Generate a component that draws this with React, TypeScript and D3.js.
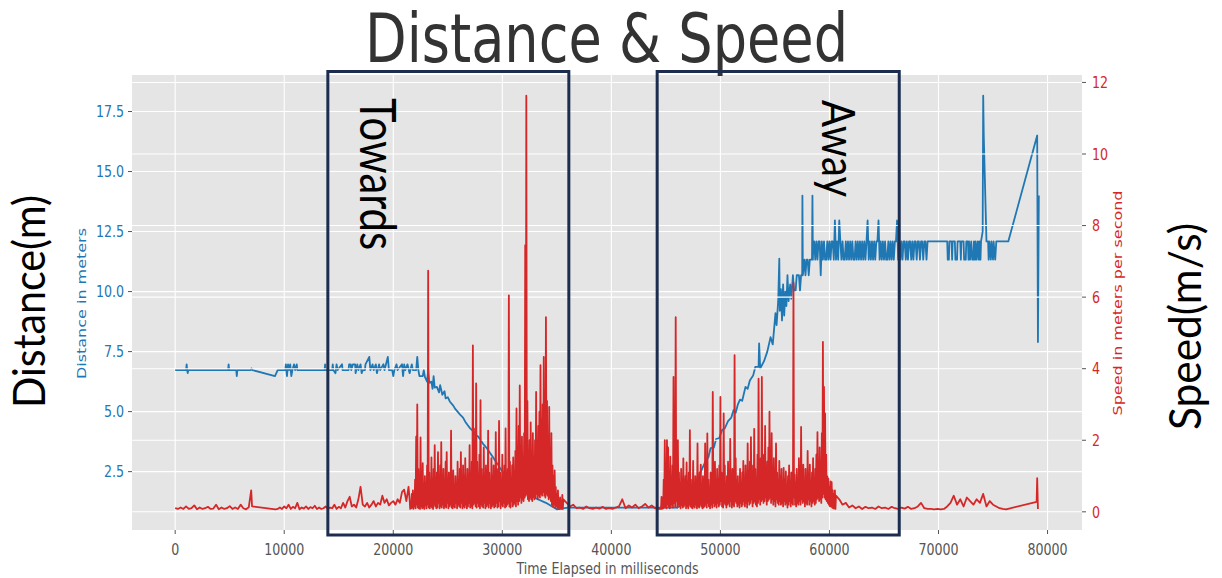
import * as d3 from 'd3';

type Pt = [number, number];

// speed in m/s, regular samples (start ms, step ms) noted per array
const speedEarly = [0.1, 0.08, 0.12, 0.08, 0.15, 0.08, 0.1, 0.18, 0.07, 0.12,
  0.08, 0.1, 0.14, 0.08, 0.09, 0.2, 0.07, 0.12, 0.08, 0.1,
  0.16, 0.08, 0.12, 0.08, 0.2, 0.1, 0.07, 0.13]; // 0, 250
const speedGap: Pt[] = [[6970, 0.6], [7050, 0.15], [9200, 0.07]];
const speedPre = [0.08, 0.12, 0.08, 0.15, 0.1, 0.2, 0.08, 0.14, 0.1, 0.25,
  0.07, 0.12, 0.09, 0.15, 0.08, 0.13, 0.1, 0.17, 0.08, 0.12,
  0.08, 0.1, 0.15, 0.08, 0.12, 0.1, 0.2, 0.08, 0.14, 0.1,
  0.25, 0.12, 0.3, 0.42, 0.15, 0.2, 0.12, 0.35, 0.7, 0.2,
  0.15, 0.25, 0.12, 0.2, 0.3, 0.15, 0.25, 0.2, 0.45, 0.25,
  0.35, 0.18, 0.25, 0.3, 0.2, 0.35, 0.25, 0.55, 0.62, 0.3,
  0.7]; // 9400, 200
// peaks every 100 ms from 21500, troughs 50 ms after each peak
const speedTowards = [0.35, 0.2, 0.5, 0.6, 0.3, 0.9, 2.1, 3.0, 1.2, 0.8,
  2.08, 0.9, 1.36, 0.7, 1.0, 0.8, 1.3, 6.74, 1.1, 0.8,
  1.52, 0.9, 1.2, 1.86, 0.7, 1.1, 1.67, 0.9, 1.3, 1.95,
  0.8, 1.2, 0.9, 1.4, 1.67, 0.8, 1.1, 0.9, 2.27, 0.8,
  1.16, 0.7, 1.0, 0.8, 1.4, 0.9, 1.2, 1.67, 0.8, 1.3,
  1.0, 1.5, 0.9, 1.2, 0.8, 1.86, 1.0, 1.4, 4.65, 2.33,
  1.1, 3.59, 1.4, 0.9, 1.6, 3.12, 1.2, 0.8, 1.8, 1.0,
  1.3, 0.9, 2.27, 1.1, 0.8, 1.5, 1.0, 1.3, 0.9, 2.23,
  1.2, 0.9, 2.54, 1.1, 0.8, 1.6, 1.0, 1.3, 2.33, 0.9,
  1.2, 6.05, 1.4, 0.9, 1.3, 1.52, 1.0, 1.7, 2.89, 1.2,
  2.4, 3.53, 1.3, 2.1, 1.5, 2.2, 7.45, 11.63, 3.1, 1.6,
  2.0, 2.5, 1.2, 2.2, 1.4, 2.0, 3.35, 1.5, 2.4, 2.8,
  4.1, 2.6, 3.0, 4.33, 2.4, 5.44, 3.1, 2.0, 2.93, 1.6,
  2.2, 1.3, 1.0, 1.16, 0.7, 0.5, 0.6, 0.3, 0.4, 0.2,
  0.47];
const speedTowardsLow = [0.08, 0.1, 0.12, 0.08, 0.15, 0.1, 0.2, 0.12, 0.1, 0.08,
  0.15, 0.1, 0.12, 0.08, 0.18, 0.1, 0.2, 0.12, 0.1, 0.15,
  0.12, 0.08, 0.2, 0.15, 0.1, 0.12, 0.25, 0.1, 0.15, 0.12,
  0.2, 0.1, 0.15, 0.12, 0.25, 0.1, 0.15, 0.2, 0.12, 0.1,
  0.15, 0.12, 0.25, 0.1, 0.2, 0.15, 0.12, 0.25, 0.1, 0.15,
  0.12, 0.2, 0.1, 0.15, 0.25, 0.12, 0.15, 0.1, 0.2, 0.25,
  0.15, 0.12, 0.25, 0.15, 0.1, 0.2, 0.15, 0.12, 0.25, 0.1,
  0.15, 0.2, 0.12, 0.25, 0.1, 0.15, 0.2, 0.12, 0.15, 0.25,
  0.12, 0.15, 0.3, 0.1, 0.2, 0.15, 0.25, 0.12, 0.15, 0.2,
  0.25, 0.15, 0.12, 0.3, 0.15, 0.2, 0.25, 0.15, 0.3, 0.2,
  0.3, 0.4, 0.25, 0.35, 0.3, 0.4, 0.45, 0.5, 0.35, 0.3,
  0.4, 0.35, 0.3, 0.45, 0.35, 0.4, 0.5, 0.35, 0.45, 0.4,
  0.5, 0.45, 0.55, 0.45, 0.4, 0.5, 0.45, 0.35, 0.4, 0.3,
  0.2, 0.15, 0.2, 0.12, 0.15, 0.1, 0.12, 0.08, 0.1, 0.08,
  0.08];
const speedMid = [0.35, 0.25, 0.15, 0.2, 0.1, 0.12, 0.08, 0.15, 0.1, 0.08,
  0.12, 0.09, 0.14, 0.08, 0.1, 0.08, 0.12, 0.15, 0.35, 0.1,
  0.18, 0.12, 0.2, 0.1, 0.15, 0.22, 0.12, 0.18, 0.1, 0.08]; // 35600, 300
// peaks every 100 ms from 44500, troughs 50 ms after each peak
const speedAway = [0.08, 0.42, 0.3, 0.9, 2.0, 1.2, 2.0, 1.8, 0.8, 1.54,
  0.9, 1.3, 3.77, 2.6, 5.44, 1.6, 2.0, 1.1, 0.8, 1.2,
  0.7, 1.49, 0.9, 1.0, 1.38, 0.8, 1.1, 2.28, 0.9, 0.7,
  1.42, 0.8, 1.0, 0.6, 1.91, 0.9, 1.1, 1.32, 0.7, 1.0,
  0.8, 1.91, 1.2, 2.19, 0.9, 0.6, 1.1, 0.8, 3.35, 1.0,
  1.4, 0.7, 1.2, 0.9, 1.3, 3.21, 1.1, 0.8, 2.75, 1.3,
  0.7, 1.0, 1.4, 0.9, 2.04, 0.8, 1.2, 0.7, 4.38, 1.5,
  0.9, 1.0, 0.6, 1.2, 0.8, 1.1, 1.42, 0.9, 1.3, 0.8,
  1.91, 1.0, 1.4, 2.09, 0.9, 1.3, 2.32, 1.2, 0.8, 1.6,
  3.72, 1.1, 1.5, 3.77, 1.2, 1.6, 2.4, 1.0, 1.4, 1.8,
  2.8, 1.3, 2.2, 1.0, 1.5, 0.8, 1.91, 1.1, 0.9, 1.42,
  1.0, 1.2, 0.8, 1.23, 0.9, 1.13, 0.7, 1.0, 1.3, 0.8,
  1.1, 0.9, 6.4, 1.04, 0.8, 1.2, 0.9, 1.5, 1.0, 2.37,
  1.1, 1.32, 0.8, 1.2, 0.9, 1.7, 1.0, 1.32, 0.8, 1.1,
  1.5, 0.9, 1.2, 1.6, 2.23, 1.2, 1.8, 1.1, 2.2, 4.75,
  3.49, 2.75, 1.6, 1.0, 0.93, 0.7, 0.85, 0.83, 0.6, 0.5,
  0.6];
const speedAwayLow = [0.08, 0.08, 0.1, 0.12, 0.15, 0.1, 0.2, 0.15, 0.1, 0.15,
  0.2, 0.12, 0.25, 0.15, 0.3, 0.12, 0.2, 0.15, 0.1, 0.2,
  0.12, 0.15, 0.2, 0.1, 0.15, 0.1, 0.2, 0.15, 0.12, 0.1,
  0.15, 0.12, 0.2, 0.1, 0.15, 0.12, 0.2, 0.15, 0.1, 0.12,
  0.15, 0.2, 0.12, 0.25, 0.15, 0.1, 0.2, 0.12, 0.25, 0.15,
  0.2, 0.12, 0.25, 0.15, 0.2, 0.3, 0.15, 0.12, 0.25, 0.2,
  0.12, 0.2, 0.25, 0.15, 0.3, 0.12, 0.2, 0.15, 0.3, 0.25,
  0.15, 0.2, 0.12, 0.25, 0.15, 0.2, 0.3, 0.15, 0.25, 0.12,
  0.3, 0.2, 0.25, 0.35, 0.15, 0.25, 0.3, 0.2, 0.15, 0.25,
  0.35, 0.2, 0.3, 0.35, 0.25, 0.3, 0.4, 0.2, 0.3, 0.35,
  0.4, 0.25, 0.35, 0.2, 0.3, 0.15, 0.35, 0.25, 0.2, 0.3,
  0.2, 0.25, 0.15, 0.3, 0.2, 0.25, 0.12, 0.2, 0.3, 0.15,
  0.25, 0.2, 0.4, 0.2, 0.15, 0.25, 0.2, 0.3, 0.2, 0.35,
  0.25, 0.3, 0.15, 0.25, 0.2, 0.35, 0.2, 0.3, 0.15, 0.25,
  0.3, 0.2, 0.25, 0.35, 0.4, 0.3, 0.35, 0.25, 0.4, 0.5,
  0.4, 0.35, 0.3, 0.25, 0.2, 0.15, 0.15, 0.12, 0.1, 0.1,
  0.08];
const speedLate = [0.45, 0.35, 0.2, 0.25, 0.12, 0.18, 0.1, 0.15, 0.08, 0.14,
  0.1, 0.12, 0.08, 0.15, 0.1, 0.12, 0.08, 0.14, 0.1, 0.08,
  0.12, 0.09, 0.14, 0.08, 0.1, 0.15, 0.25, 0.1, 0.08, 0.08,
  0.07, 0.08, 0.07, 0.08, 0.15, 0.25, 0.45, 0.2, 0.35, 0.15,
  0.4, 0.3, 0.2, 0.35, 0.25, 0.5, 0.15, 0.3, 0.2, 0.15,
  0.1, 0.08, 0.07]; // 60600, 300
const speedTail: Pt[] = [[79000, 0.28], [79050, 0.94], [79120, 0.08]];

// distance in meters
const distStart: Pt[] = [
  [0, 6.73], [1000, 6.73], [1050, 6.97], [1100, 6.73], [1150, 6.6], [1200, 6.73],
  [4850, 6.73], [4900, 6.97], [4950, 6.73], [5600, 6.73], [5650, 6.48], [5700, 6.73],
  [6950, 6.73], [7000, 6.8], [7100, 6.73], [9150, 6.48], [9400, 6.73],
  [10100, 6.73], [10150, 6.97], [10250, 6.48], [10350, 6.97], [10450, 6.73], [10550, 6.97],
  [10650, 6.48], [10750, 6.73], [10900, 6.97], [11000, 6.73], [11150, 6.97], [11200, 6.73],
  [13700, 6.73], [13750, 6.97], [13800, 6.73], [14400, 6.73], [14450, 6.97], [14500, 6.73],
  [14700, 6.6], [14800, 6.97], [14900, 6.73], [15300, 6.97], [15350, 6.73],
  [15900, 6.73], [15950, 6.97], [16100, 6.97], [16150, 6.73], [16300, 6.97], [16500, 6.97],
  [16550, 6.6], [16700, 6.97], [16800, 6.73], [17000, 6.97], [17100, 6.6], [17200, 6.73],
  [17400, 6.73], [17450, 6.97], [17800, 7.28], [17900, 6.73], [18100, 6.97], [18200, 6.73],
  [18400, 6.97], [18500, 6.6], [18700, 6.97], [18800, 6.73], [19100, 6.97], [19200, 6.73],
  [19500, 7.28], [19600, 6.73], [19900, 6.73], [20000, 6.48], [20100, 6.73], [20300, 6.97],
  [20400, 6.73], [20800, 6.97], [20900, 6.48], [21000, 6.97], [21100, 6.73], [21300, 6.97],
  [21500, 6.6], [21700, 6.97], [21800, 6.73],
  [22100, 6.73], [22200, 7.28], [22300, 6.73], [22400, 6.48], [22700, 6.48], [22800, 6.73],
  [22900, 6.45], [23100, 6.25], [23200, 6.73], [23300, 6.2], [23500, 6.25], [23600, 5.95],
  [23700, 6.48], [23800, 6.0], [24000, 6.03], [24200, 5.8], [24300, 6.1], [24500, 5.7],
  [24700, 5.85], [24800, 5.55], [25000, 5.6], [25200, 5.41], [25500, 5.25], [25700, 5.1],
  [25900, 5.0], [26150, 4.86], [26400, 4.75], [26600, 4.58], [26800, 4.45], [27050, 4.3],
  [27300, 4.2], [27500, 4.05], [27800, 3.95], [28000, 3.82], [28250, 3.65], [28450, 3.55],
  [28700, 3.4], [28900, 3.26], [29150, 3.1], [29350, 2.95], [29600, 2.8], [29800, 2.64],
  [30100, 2.45], [30400, 2.3], [30700, 2.15], [31000, 2.03], [32000, 1.7], [33000, 1.4],
  [34000, 1.2], [35000, 0.93], [36000, 1.0], [40000, 1.0], [44000, 1.0], [46000, 1.0],
  [46800, 1.2], [47400, 1.6], [47800, 2.0], [48200, 2.5], [48600, 2.9], [48900, 3.1],
  [49100, 3.48], [49400, 3.5], [49600, 3.85], [49900, 3.9], [50150, 4.23], [50400, 4.3],
  [50700, 4.6], [51000, 4.75], [51200, 5.06], [51400, 4.95], [51600, 5.3], [51800, 5.5],
  [52000, 5.45], [52300, 6.03], [52500, 5.95], [52700, 6.3], [53000, 6.5],
  [53200, 6.86], [53500, 6.86], [53550, 7.84], [53650, 6.8], [54000, 7.1], [54300, 7.5],
  [54600, 8.1], [54800, 7.8], [55050, 9.1], [55150, 8.6], [55300, 9.6], [55400, 11.37],
  [55450, 9.2], [55550, 10.1], [55650, 8.8], [55750, 10.3], [55850, 9.0], [55950, 10.0],
  [56050, 9.4], [56150, 10.68], [56250, 9.6], [56400, 10.3], [56500, 9.7], [56650, 10.68],
  [56750, 10.05], [56900, 10.05], [57000, 10.68], [57200, 10.68], [57300, 10.05], [57400, 10.68],
  [57500, 10.68], [57520, 14.0], [57560, 10.68], [57700, 11.33], [57800, 10.68], [57900, 11.33],
  [58000, 11.33], [58100, 10.68], [58200, 11.33], [58400, 11.33], [58440, 14.0], [58480, 11.33],
  [58530, 12.09],
];
const distPlateau = [12.09, 11.33, 12.09, 11.33, 12.09, 12.09, 10.68, 12.09, 11.33, 12.09,
  11.33, 11.33, 12.09, 11.33, 12.09, 11.33, 12.09, 12.09, 11.33, 12.96,
  11.33, 12.09, 11.33, 12.96, 12.09, 11.33, 12.09, 11.33, 11.33, 12.09,
  11.33, 12.09, 11.33, 12.09, 11.33, 12.09, 11.33, 11.33, 12.09, 11.33,
  12.09, 11.33, 12.09, 11.33, 12.09, 11.33, 12.09, 11.33, 12.09, 12.96,
  11.33, 12.09, 11.33, 12.09, 11.33, 12.09, 11.33, 12.09, 12.09, 12.96,
  11.33, 12.09, 11.33, 12.09, 11.33, 12.09, 11.33, 11.33, 12.09, 11.33,
  12.09, 11.33, 12.09, 11.33, 12.09, 12.09, 12.96, 11.33, 12.09, 11.33,
  12.09, 11.33, 12.09, 12.09, 11.33, 12.09, 11.33, 12.09, 12.09, 11.33,
  12.09, 11.33, 12.09, 12.09, 11.33, 12.09, 12.09, 11.33, 12.09, 12.09,
  11.33, 12.09, 12.09, 11.33, 12.09]; // 58600, 100
const distEnd: Pt[] = [
  [70700, 12.09], [70800, 12.09], [70850, 11.33], [70950, 11.33], [71000, 12.09], [71200, 12.09],
  [71250, 11.33], [71300, 12.09], [71500, 12.09], [71550, 11.33], [71700, 11.33], [71750, 12.09],
  [72000, 12.09], [72050, 11.33], [72100, 12.09], [72300, 12.09], [72350, 11.33], [72500, 11.33],
  [72550, 12.09], [72700, 12.09], [72750, 11.33], [72800, 12.09], [72900, 11.33], [73000, 12.09],
  [73100, 11.33], [73200, 11.33], [73250, 12.09], [73350, 11.33], [73400, 12.09], [73500, 11.33],
  [73600, 12.09], [73700, 11.33], [73750, 12.09], [73850, 11.33], [73900, 12.09], [74050, 12.5],
  [74100, 18.16], [74150, 16.5], [74350, 12.96], [74400, 12.09], [74550, 12.09], [74600, 11.33],
  [74650, 12.09], [74800, 11.33], [74850, 12.09], [75000, 11.33], [75050, 12.09], [75200, 11.33],
  [75300, 12.09], [76400, 12.09], [79050, 16.5], [79120, 7.9], [79200, 14.0],
];

const timeTicks = [0, 10000, 20000, 30000, 40000, 50000, 60000, 70000, 80000];
const distTicks = [2.5, 5, 7.5, 10, 12.5, 15, 17.5];
const speedTicks = [0, 2, 4, 6, 8, 10, 12];
const towardsSpan = [14000, 36100];
const awaySpan = [44200, 66400];

const sampled = (start: number, step: number, values: number[]): Pt[] =>
  values.map((v, i) => [start + i * step, v] as Pt);

// peak samples, each followed by its trough 50 ms later
const zigzag = (start: number, peaks: number[], lows: number[]): Pt[] =>
  peaks.flatMap((v, i) => [[start + i * 100, v], [start + i * 100 + 50, lows[i]]] as Pt[]);

const speed: Pt[] = [
  ...sampled(0, 250, speedEarly), ...speedGap, ...sampled(9400, 200, speedPre),
  ...zigzag(21500, speedTowards, speedTowardsLow), ...sampled(35600, 300, speedMid),
  ...zigzag(44500, speedAway, speedAwayLow), ...sampled(60600, 300, speedLate), ...speedTail,
];
const dist: Pt[] = [...distStart, ...sampled(58600, 100, distPlateau), ...distEnd];

// matplotlib style 5% margins
const padded = (vals: number[]) => {
  const [lo, hi] = d3.extent(vals) as [number, number];
  const m = (hi - lo) * 0.05;
  return [lo - m, hi + m];
};

const plot = { left: 132, right: 1082, top: 75, bottom: 530 };
const SQ = 0.79; // the source image is squeezed horizontally
const BLUE = '#1f77b4';
const RED = '#d62728';
const NAVY = '#1c2d4f';

export default function App() {
  const x = d3.scaleLinear()
    .domain(padded([...dist, ...speed].map(d => d[0])))
    .range([plot.left, plot.right]);
  const yD = d3.scaleLinear().domain(padded(dist.map(d => d[1]))).range([plot.bottom, plot.top]);
  const yS = d3.scaleLinear().domain(padded(speed.map(d => d[1]))).range([plot.bottom, plot.top]);

  const lineD = d3.line<Pt>().x(d => x(d[0])).y(d => yD(d[1]));
  const lineS = d3.line<Pt>().x(d => x(d[0])).y(d => yS(d[1]));

  const fmtD = d3.format('.1f');
  const fmtT = d3.format('d');

  const boxTop = 71.5;
  const boxBottom = 535;

  return (
    <svg width={1222} height={578} style={{ position: 'absolute', left: 0, top: 0, background: '#fff' }}
      fontFamily="DejaVu Sans">
      <rect x={plot.left} y={plot.top} width={plot.right - plot.left} height={plot.bottom - plot.top} fill="#E5E5E5" />

      {/* left axis grid */}
      <g stroke="#fff" strokeWidth={1.1}>
        {timeTicks.map(t => <line key={'gx' + t} x1={x(t)} x2={x(t)} y1={plot.top} y2={plot.bottom} />)}
        {distTicks.map(t => <line key={'gd' + t} x1={plot.left} x2={plot.right} y1={yD(t)} y2={yD(t)} />)}
      </g>

      <path d={lineD(dist) ?? ''} fill="none" stroke={BLUE} strokeWidth={1.8} strokeLinejoin="round" />

      {/* right axis grid */}
      <g stroke="#fff" strokeWidth={1.1}>
        {speedTicks.map(t => <line key={'gs' + t} x1={plot.left} x2={plot.right} y1={yS(t)} y2={yS(t)} />)}
      </g>

      <path d={lineS(speed) ?? ''} fill="none" stroke={RED} strokeWidth={1.8} strokeLinejoin="round" />

      {/* ticks */}
      <g stroke="#555" strokeWidth={1}>
        {timeTicks.map(t => <line key={'tx' + t} x1={x(t)} x2={x(t)} y1={plot.bottom} y2={plot.bottom + 4} />)}
        {distTicks.map(t => <line key={'td' + t} x1={plot.left - 4} x2={plot.left} y1={yD(t)} y2={yD(t)} />)}
        {speedTicks.map(t => <line key={'ts' + t} x1={plot.right} x2={plot.right + 4} y1={yS(t)} y2={yS(t)} />)}
      </g>
      <g fontSize={16}>
        {timeTicks.map(t => (
          <text key={'lx' + t} transform={`translate(${x(t)},555) scale(${SQ},1)`} textAnchor="middle" fill="#555">
            {fmtT(t)}
          </text>
        ))}
        {distTicks.map(t => (
          <text key={'ld' + t} transform={`translate(${plot.left - 8},${yD(t)}) scale(${SQ},1)`} textAnchor="end"
            dy="0.36em" fill={BLUE}>
            {fmtD(t)}
          </text>
        ))}
        {speedTicks.map(t => (
          <text key={'ls' + t} transform={`translate(${plot.right + 10},${yS(t)}) scale(${SQ},1)`} dy="0.36em" fill={RED}>
            {t}
          </text>
        ))}
      </g>

      <text transform={`translate(607.5,574) scale(${SQ},1)`} textAnchor="middle" fontSize={16} fill="#555">
        Time Elapsed in milliseconds
      </text>
      <text transform={`translate(86,303.5) scale(${SQ},1) rotate(-90)`} textAnchor="middle" fontSize={16} fill={BLUE}>
        Distance in meters
      </text>
      <text transform={`translate(1122,303) scale(${SQ},1) rotate(-90)`} textAnchor="middle" fontSize={16} fill={RED}>
        Speed in meters per second
      </text>

      <text transform={`translate(606.5,62) scale(${SQ},1)`} textAnchor="middle" fontSize={68} fill="#333"
        textLength={483 / SQ} lengthAdjust="spacingAndGlyphs">
        Distance &amp; Speed
      </text>

      {/* annotation boxes */}
      <g fill="none" stroke={NAVY} strokeWidth={3}>
        <rect x={x(towardsSpan[0])} y={boxTop} width={x(towardsSpan[1]) - x(towardsSpan[0])} height={boxBottom - boxTop} />
        <rect x={x(awaySpan[0])} y={boxTop} width={x(awaySpan[1]) - x(awaySpan[0])} height={boxBottom - boxTop} />
      </g>

      <g fontFamily="Lato, 'Noto Sans', sans-serif" fill="#000">
        <text transform={`translate(${x(towardsSpan[0]) + 32},98) rotate(90)`} fontSize={50}
          textLength={152} lengthAdjust="spacingAndGlyphs">Towards</text>
        <text transform={`translate(${x(awaySpan[0]) + 165},100) rotate(90)`} fontSize={46}
          textLength={97} lengthAdjust="spacingAndGlyphs">Away</text>
        <text transform="translate(45,301.5) rotate(-90)" textAnchor="middle" fontSize={44}
          textLength={213} lengthAdjust="spacingAndGlyphs">Distance(m)</text>
        <text transform="translate(1201,326.5) rotate(-90)" textAnchor="middle" fontSize={44}
          textLength={207} lengthAdjust="spacingAndGlyphs">Speed(m/s)</text>
      </g>
    </svg>
  );
}
